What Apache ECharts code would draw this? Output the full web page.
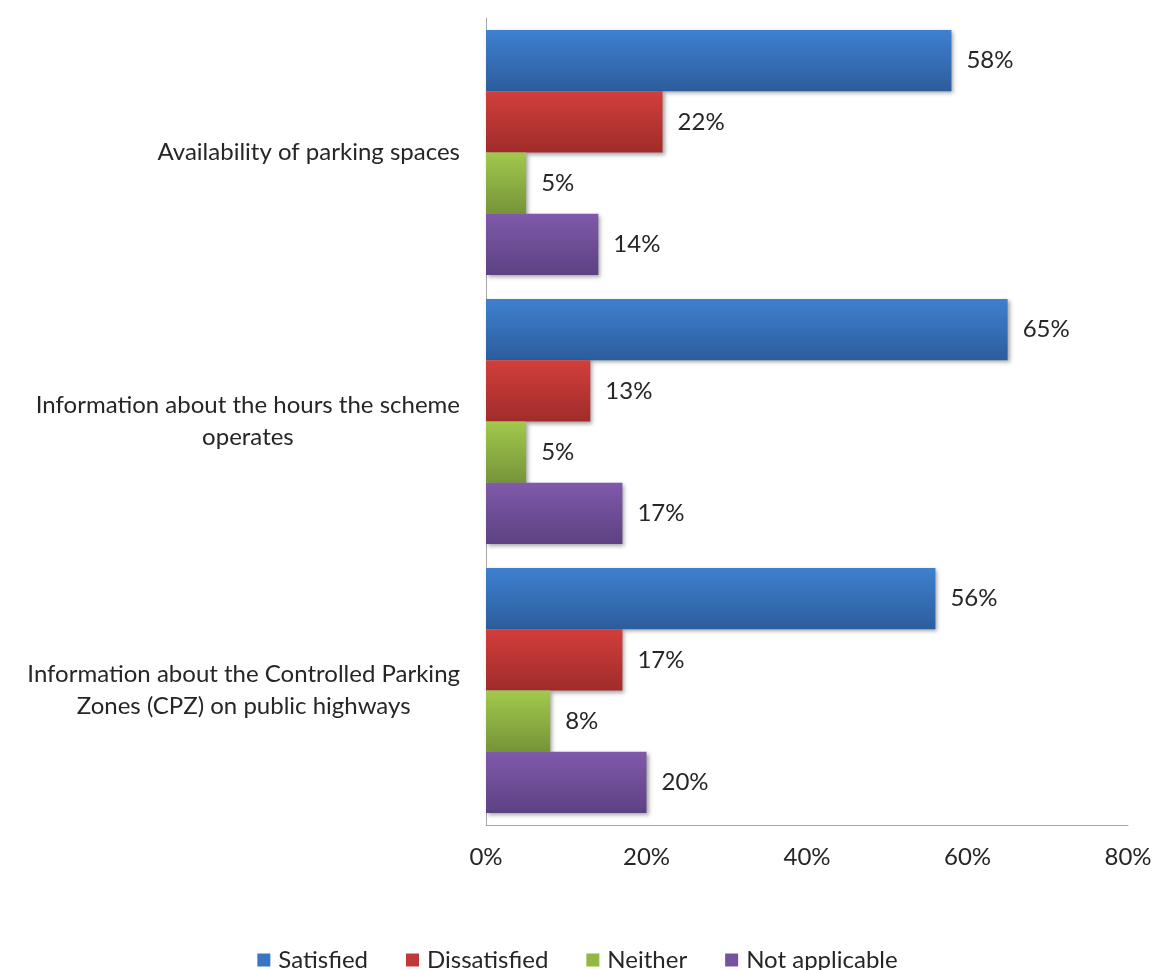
<!DOCTYPE html>
<html>
<head>
<meta charset="utf-8">
<style>
  html, body { margin: 0; padding: 0; background: #ffffff; }
  #chart { width: 1155px; height: 970px; }
</style>
<script src="https://cdn.jsdelivr.net/npm/echarts@6/dist/echarts.min.js"></script>
</head>
<body>
<div id="chart"></div>
<script>
// Survey questions (one category per band, top to bottom)
const categories = [
  ['Availability of parking spaces'],
  ['Information about the hours the scheme', 'operates'],
  ['Information about the Controlled Parking', 'Zones (CPZ) on public highways']
];

// Response shares, percent
const satisfied     = [58, 65, 56];
const dissatisfied  = [22, 13, 17];
const neither       = [5, 5, 8];
const notApplicable = [14, 17, 20];

const seriesNames = ['Satisfied', 'Dissatisfied', 'Neither', 'Not applicable'];
const xTicks = [0, 20, 40, 60, 80];

const FONT = 'Lato, "Open Sans", sans-serif';
const FS = 24;
const TEXT = '#262626';

// Vertical shading: lighter top edge, darker bottom edge
function shade(top, bottom) {
  return new echarts.graphic.LinearGradient(0, 0, 0, 1, [
    { offset: 0, color: top },
    { offset: 1, color: bottom }
  ]);
}
const palette = [
  ['#3e80d0', '#2c5d9c', '#3a75c4'],
  ['#d23e3b', '#9f2c2a', '#c0393a'],
  ['#a2c94c', '#769439', '#92b843'],
  ['#8059ab', '#5c4282', '#7552a0']
];

const values = [satisfied, dissatisfied, neither, notApplicable];

const chart = echarts.init(document.getElementById('chart'));
chart.setOption({
  animation: false,
  textStyle: { fontFamily: FONT },
  grid: { left: 486, right: 27, top: 18, bottom: 145, containLabel: false },
  legend: {
    data: seriesNames.map((n, i) => ({ name: n, itemStyle: { color: palette[i][2] } })),
    top: 943,
    left: 'center',
    icon: 'rect',
    itemWidth: 13,
    itemHeight: 13,
    itemGap: 38,
    textStyle: { fontFamily: FONT, fontSize: FS, color: TEXT, padding: [0, 0, 0, 3] }
  },
  xAxis: {
    type: 'value',
    min: xTicks[0],
    max: xTicks[xTicks.length - 1],
    interval: 20,
    splitLine: { show: false },
    axisTick: { show: false },
    axisLine: { show: true, lineStyle: { color: '#a6a6a6', width: 1 } },
    axisLabel: {
      formatter: '{value}%',
      margin: 20,
      fontFamily: FONT,
      fontSize: FS,
      color: TEXT
    }
  },
  yAxis: {
    type: 'category',
    inverse: true,
    data: categories.map(c => c.join('\n')),
    axisTick: { show: false },
    axisLine: { show: true, lineStyle: { color: '#a6a6a6', width: 1 } },
    axisLabel: {
      margin: 26,
      align: 'right',
      formatter: v => v.split('\n').map(l => '{c|' + l + '}').join('\n'),
      rich: {
        c: { align: 'center', fontFamily: FONT, fontSize: FS, color: TEXT, lineHeight: 32 }
      }
    }
  },
  series: seriesNames.map((name, i) => ({
    name: name,
    type: 'bar',
    data: values[i],
    barGap: '0%',
    barCategoryGap: '9%',
    itemStyle: {
      color: shade(palette[i][0], palette[i][1]),
      shadowColor: 'rgba(0,0,0,0.35)',
      shadowBlur: 4,
      shadowOffsetX: 2,
      shadowOffsetY: 2
    },
    label: {
      show: true,
      position: 'right',
      distance: 15,
      formatter: '{c}%',
      fontFamily: FONT,
      fontSize: FS,
      color: TEXT
    }
  }))
});
</script>
</body>
</html>
